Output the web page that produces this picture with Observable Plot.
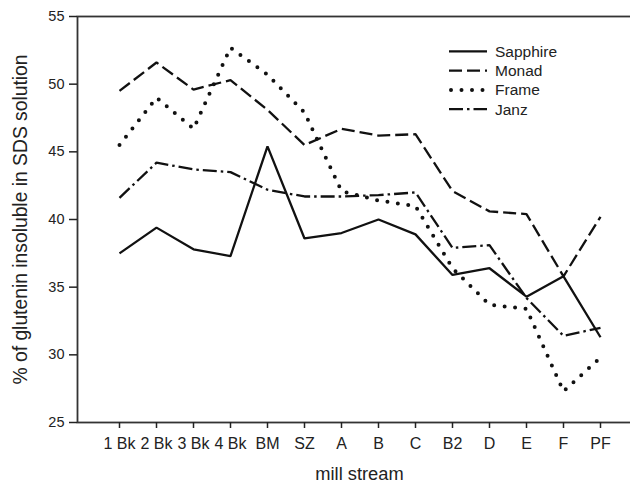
<!DOCTYPE html>
<html>
<head>
<meta charset="utf-8">
<script src="https://cdn.jsdelivr.net/npm/d3@7"></script>
<script src="https://cdn.jsdelivr.net/npm/@observablehq/plot@0.6"></script>
<style>
  html, body { margin: 0; padding: 0; background: #fff; overflow: hidden; }
  #wrap { position: relative; width: 630px; height: 484px; overflow: hidden; font-family: "Liberation Sans", Arial, sans-serif; }
  #chart svg { max-width: none !important; width: 641px !important; height: 484px !important; display: block; }
  #legend { position: absolute; left: 0; top: 0; }
  g[aria-label="y-axis label"] text { font-size: 19.3px; }
  g[aria-label="x-axis tick label"] text { font-size: 16px; }
  g[aria-label="y-axis tick label"] text { font-size: 14.5px; }
</style>
</head>
<body>
<div id="wrap"><div id="chart"></div></div>
<script>
// ---- data ----
const streams = ["1 Bk", "2 Bk", "3 Bk", "4 Bk", "BM", "SZ", "A", "B", "C", "B2", "D", "E", "F", "PF"];
const sapphire = [37.5, 39.4, 37.8, 37.3, 45.4, 38.6, 39.0, 40.0, 38.9, 35.9, 36.4, 34.3, 35.8, 31.3];
const monad    = [49.5, 51.6, 49.6, 50.3, 48.1, 45.5, 46.7, 46.2, 46.3, 42.1, 40.6, 40.4, 35.8, 40.2];
const frame    = [45.5, 49.0, 46.7, 52.7, 50.7, 47.9, 42.1, 41.4, 41.0, 36.4, 33.7, 33.4, 27.3, 29.8];
const janz     = [41.6, 44.2, 43.7, 43.5, 42.2, 41.7, 41.7, 41.8, 42.0, 37.9, 38.1, 34.2, 31.4, 32.0];
const seriesNames = ["Sapphire", "Monad", "Frame", "Janz"];
const seriesValues = [sapphire, monad, frame, janz];
const yTicks = [25, 30, 35, 40, 45, 50, 55];
const yLabel = "% of glutenin insoluble in SDS solution";
const xLabel = "mill stream";

// ---- styles ----
const lineStyles = {
  Sapphire: { dash: null, width: 2.3, cap: "butt" },
  Monad:    { dash: "13,5", width: 2.3, cap: "butt" },
  Frame:    { dash: "0,10.5", width: 4, cap: "round" },
  Janz:     { dash: "14,4,2.5,4", width: 2.3, cap: "butt" }
};

const rows = seriesNames.map((name, i) =>
  streams.map((s, j) => ({ series: name, stream: s, value: seriesValues[i][j] }))
);

const lineMarks = seriesNames.map((name, i) =>
  Plot.line(rows[i], {
    x: "stream", y: "value",
    stroke: "#111",
    strokeWidth: lineStyles[name].width,
    strokeDasharray: lineStyles[name].dash,
    strokeLinecap: lineStyles[name].cap,
    strokeLinejoin: "miter"
  })
);

const chart = Plot.plot({
  width: 641,
  height: 484,
  marginLeft: 77,
  marginRight: 0,
  marginTop: 16,
  marginBottom: 62,
  style: { fontFamily: "'Liberation Sans', Arial, sans-serif", fontSize: "15px", color: "#222", background: "transparent", maxWidth: "none" },
  x: { type: "point", domain: streams, padding: 1 },
  y: { domain: [25, 55] },
  marks: [
    Plot.frame({ stroke: "#333", strokeWidth: 1.8 }),
    Plot.axisY({ ticks: yTicks, tickSize: 8, tickPadding: 5, strokeWidth: 1.5, label: yLabel, labelAnchor: "center", labelArrow: "none", labelOffset: 64 }),
    Plot.axisX({ tickSize: 6, tickPadding: 9, strokeWidth: 1.5, label: null }),
    Plot.text([xLabel], { frameAnchor: "bottom", lineAnchor: "middle", dy: 52, fontSize: 18.3, fill: "#222" }),
    ...lineMarks
  ]
});
document.getElementById("chart").appendChild(chart);

// ---- legend ----
const leg = d3.select("#wrap").append("svg").attr("id", "legend")
  .attr("width", 630).attr("height", 140);
const rowsG = leg.selectAll("g").data(seriesNames).join("g")
  .attr("transform", (d, i) => `translate(449,${51.3 + i * 19.3})`);
rowsG.append("line")
  .attr("x1", 0).attr("x2", 38).attr("y1", 0).attr("y2", 0)
  .attr("stroke", "#111")
  .attr("stroke-width", d => lineStyles[d].width)
  .attr("stroke-dasharray", d => lineStyles[d].dash)
  .attr("stroke-linecap", d => lineStyles[d].cap)
  .attr("transform", d => d === "Frame" ? "translate(2,0)" : null);
rowsG.append("text")
  .attr("x", 46).attr("y", 0).attr("dy", "0.36em")
  .attr("font-size", 15.5)
  .attr("fill", "#222")
  .attr("font-family", "'Liberation Sans', Arial, sans-serif")
  .text(d => d);
</script>
</body>
</html>
